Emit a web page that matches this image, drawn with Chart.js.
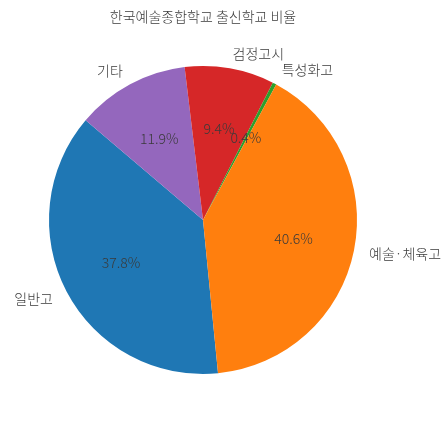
<!DOCTYPE html>
<html>
<head>
<meta charset="utf-8">
<script src="https://cdn.jsdelivr.net/npm/chart.js@4.4.0/dist/chart.umd.min.js"></script>
<style>
  html, body { margin: 0; padding: 0; background: #fff; }
  #c { display: block; }
</style>
</head>
<body>
<canvas id="c" width="447" height="423"></canvas>
<script>
// slices, listed clockwise from the bottom (matplotlib drew them counterclockwise)
var labels = ['일반고', '기타', '검정고시', '특성화고', '예술·체육고'];
var shares = [37.8, 11.9, 9.4, 0.4, 40.6];
var colors = ['#1f77b4', '#9467bd', '#d62728', '#2ca02c', '#ff7f0e'];
var title = '한국예술종합학교 출신학교 비율';

var FONT = "'Noto Sans CJK KR', 'Noto Sans', sans-serif";
var TEXT = '#3a3a3a';

// draws the outside labels, the percentages inside and the title
var pieText = {
  id: 'pieText',
  afterDatasetsDraw: function(chart) {
    var ctx = chart.ctx;
    var arcs = chart.getDatasetMeta(0).data;
    ctx.save();
    ctx.fillStyle = TEXT;
    ctx.font = '300 14px ' + FONT;
    ctx.textBaseline = 'middle';
    arcs.forEach(function(arc, i) {
      var mid = (arc.startAngle + arc.endAngle) / 2;
      var r = arc.outerRadius;
      var cx = Math.cos(mid), cy = Math.sin(mid);
      // percentage at 0.6 r
      ctx.textAlign = 'center';
      ctx.fillText(shares[i].toFixed(1) + '%', arc.x + cx * r * 0.6, arc.y + cy * r * 0.6);
      // label at 1.1 r
      ctx.textAlign = cx > 0 ? 'left' : 'right';
      ctx.fillText(labels[i], arc.x + cx * r * 1.1, arc.y + cy * r * 1.1);
    });
    ctx.textAlign = 'center';
    ctx.fillText(title, arcs[0].x, 17);
    ctx.restore();
  }
};

new Chart(document.getElementById('c'), {
  type: 'pie',
  data: {
    labels: labels,
    datasets: [{
      data: shares,
      backgroundColor: colors,
      borderWidth: 0
    }]
  },
  options: {
    responsive: false,
    animation: false,
    rotation: 174.4,
    layout: { padding: { left: 49, right: 90, top: 66, bottom: 49 } },
    plugins: {
      legend: { display: false },
      tooltip: { enabled: false },
      title: { display: false }
    }
  },
  plugins: [pieText]
});
</script>
</body>
</html>
